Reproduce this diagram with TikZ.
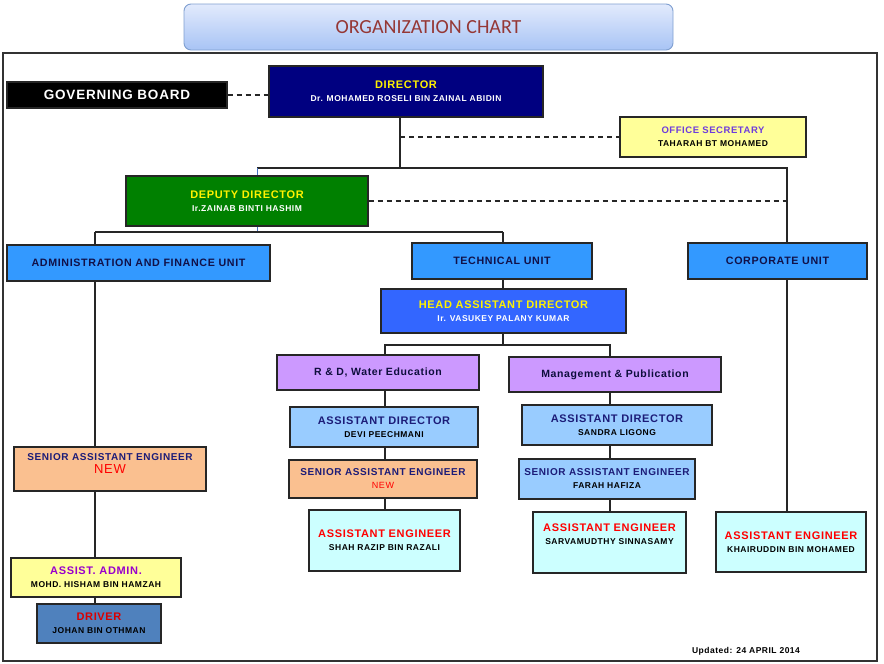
\documentclass[tikz,border=0pt]{standalone}
\usepackage{fontspec}
\setmainfont{Liberation Sans}[LetterSpace=6]
\newfontfamily\chartfont{Carlito}

\definecolor{dirblue}{HTML}{000080}
\definecolor{depgreen}{HTML}{008000}
\definecolor{unitblue}{HTML}{3399FF}
\definecolor{headblue}{HTML}{3366FF}
\definecolor{lilac}{HTML}{CC99FF}
\definecolor{skyblue}{HTML}{99CCFF}
\definecolor{peach}{HTML}{FAC090}
\definecolor{icecyan}{HTML}{CCFFFF}
\definecolor{paleyellow}{HTML}{FFFF99}
\definecolor{steel}{HTML}{4F81BD}
\definecolor{hdnavy}{HTML}{1C1C78}
\definecolor{secpurple}{HTML}{6E3CDC}
\definecolor{admpurple}{HTML}{9900CC}
\definecolor{titlered}{HTML}{953735}
\definecolor{titletop}{HTML}{E2EAFC}
\definecolor{titlebot}{HTML}{A8C4F5}
\definecolor{titleedge}{HTML}{7F9FD0}

\newcommand{\hdfont}{\fontsize{11}{12}\selectfont}
\newcommand{\nmfont}{\fontsize{8.5}{10}\selectfont}

\tikzset{
  post/.style={draw=black!85, line width=1.3pt, align=center, font=\bfseries, inner sep=1pt},
  link/.style={line width=1.1pt, black!85},
  dlink/.style={link, dash pattern=on 5pt off 4pt},
}

\begin{document}
\begin{tikzpicture}[x=1pt, y=-1pt]
  \useasboundingbox (0,0) rectangle (884,664);
  \draw[line width=1.3pt, black!80] (3,53) rectangle (877,661);

  \node[draw=titleedge, line width=0.9pt, rounded corners=7pt, top color=titletop, bottom color=titlebot,
        minimum width=489pt, minimum height=46pt, font=\chartfont\fontsize{20}{22}\selectfont, text=titlered] (title) at (428.5,27) {ORGANIZATION CHART};

  \node[post, fill=black, minimum width=220pt, minimum height=26pt, text=white, font=\bfseries\fontsize{13.5}{15}\selectfont] (board) at (117,95) {GOVERNING BOARD};
  \node[post, fill=dirblue, minimum width=274pt, minimum height=51pt] (dir) at (406,91.5)
    {{\hdfont\color{yellow}DIRECTOR}\\[1pt]{\nmfont\color{white}Dr. MOHAMED ROSELI BIN ZAINAL ABIDIN}};
  \node[post, fill=paleyellow, minimum width=186pt, minimum height=40pt] (sec) at (713,137)
    {{\fontsize{9.5}{11}\selectfont\color{secpurple}OFFICE SECRETARY}\\[1pt]{\nmfont TAHARAH BT MOHAMED}};
  \node[post, fill=depgreen, minimum width=242pt, minimum height=50pt] (dep) at (247,201)
    {{\hdfont\color{yellow}DEPUTY DIRECTOR}\\[1pt]{\nmfont\color{white}Ir.ZAINAB BINTI HASHIM}};

  \node[post, fill=unitblue, minimum width=263pt, minimum height=36pt, font=\bfseries\fontsize{10.7}{12}\selectfont, text=hdnavy!60!black] (adm) at (138.5,263) {ADMINISTRATION AND FINANCE UNIT};
  \node[post, fill=unitblue, minimum width=180pt, minimum height=36pt, font=\bfseries\fontsize{10.7}{12}\selectfont, text=hdnavy!60!black] (tech) at (502,261) {TECHNICAL UNIT};
  \node[post, fill=unitblue, minimum width=179pt, minimum height=36pt, font=\bfseries\fontsize{10.7}{12}\selectfont, text=hdnavy!60!black] (corp) at (777.5,261) {CORPORATE UNIT};

  \node[post, fill=headblue, minimum width=245pt, minimum height=44pt] (head) at (503.5,311)
    {{\hdfont\color{yellow}HEAD ASSISTANT DIRECTOR}\\[1pt]{\nmfont\color{white}Ir. VASUKEY PALANY KUMAR}};
  \node[post, fill=lilac, minimum width=202pt, minimum height=35pt, font=\bfseries\fontsize{10.5}{12}\selectfont, text=hdnavy!50!black] (rnd) at (378,372.5) {R \& D, Water Education};
  \node[post, fill=lilac, minimum width=212pt, minimum height=35pt, font=\bfseries\fontsize{10.5}{12}\selectfont, text=hdnavy!50!black] (mgt) at (615,374.5) {Management \& Publication};

  \node[post, fill=skyblue, minimum width=188pt, minimum height=40pt] (ad1) at (384,427)
    {{\hdfont\color{hdnavy}ASSISTANT DIRECTOR}\\[1pt]{\nmfont DEVI PEECHMANI}};
  \node[post, fill=peach, minimum width=188pt, minimum height=38pt] (sae1) at (383,479)
    {{\fontsize{10}{11}\selectfont\color{hdnavy}SENIOR ASSISTANT ENGINEER}\\[1pt]{\fontsize{9}{10}\selectfont\mdseries\color{red}NEW}};
  \node[post, fill=icecyan, minimum width=151pt, minimum height=61pt] (ae1) at (384.5,540.5)
    {{\hdfont\color{red}ASSISTANT ENGINEER}\\[1pt]{\nmfont SHAH RAZIP BIN RAZALI}};

  \node[post, fill=skyblue, minimum width=190pt, minimum height=40pt] (ad2) at (617,425)
    {{\hdfont\color{hdnavy}ASSISTANT DIRECTOR}\\[1pt]{\nmfont SANDRA LIGONG}};
  \node[post, fill=skyblue, minimum width=176pt, minimum height=40pt] (sae2) at (607,479)
    {{\fontsize{10}{11}\selectfont\color{hdnavy}SENIOR ASSISTANT ENGINEER}\\[1pt]{\nmfont FARAH HAFIZA}};
  \node[post, fill=icecyan, minimum width=153pt, minimum height=61pt] (ae2) at (609.5,542.5)
    {{\hdfont\color{red}ASSISTANT ENGINEER}\\[1pt]{\nmfont SARVAMUDTHY SINNASAMY}\\[4pt]~};

  \node[post, fill=icecyan, minimum width=150pt, minimum height=60pt] (ae3) at (791,542)
    {{\hdfont\color{red}ASSISTANT ENGINEER}\\[1pt]{\nmfont KHAIRUDDIN BIN MOHAMED}};

  \node[post, fill=peach, minimum width=192pt, minimum height=44pt] (sae0) at (110,469)
    {{\fontsize{10}{11}\selectfont\color{hdnavy}SENIOR ASSISTANT ENGINEER}\\[1pt]{\fontsize{13}{14}\selectfont\mdseries\color{red}NEW}\\[-1pt]~};
  \node[post, fill=paleyellow, minimum width=170pt, minimum height=39pt] (asa) at (96,577.5)
    {{\hdfont\color{admpurple}ASSIST. ADMIN.}\\[1pt]{\nmfont MOHD. HISHAM BIN HAMZAH}};
  \node[post, fill=steel, minimum width=124pt, minimum height=39pt] (drv) at (99,623.5)
    {{\hdfont\color{red!85!black}DRIVER}\\[1pt]{\nmfont JOHAN BIN OTHMAN}};

  \node[font=\bfseries\fontsize{8.5}{10}\selectfont] (upd) at (746,651) {Updated: 24 APRIL 2014};

  \coordinate (top) at (400,168);
  \coordinate (right) at (787,168);
  \coordinate (dx) at (257,168);
  \coordinate (mid) at (257,232);
  \coordinate (cadm) at (95,232);
  \coordinate (ctech) at (503,232);
  \coordinate (hd) at (503,345);
  \coordinate (cl) at (385,345);
  \coordinate (cr) at (610,345);

  \draw[dlink] (board.east) -- (board.east -| dir.west);
  \draw[link] (dir.south -| top) -- (top);
  \draw[dlink] (sec.west -| top) -- (sec.west);
  \draw[link] (dx) -- (right) -- (corp.north -| right);
  \draw[steel!90!blue, line width=1pt] (dx) -- (dep.north -| dx);
  \draw[dlink] (dep.east) -- (dep.east -| right);
  \draw[steel!90!blue, line width=1pt] (dep.south -| mid) -- (mid);
  \draw[link] (cadm) -- (ctech);
  \draw[link] (cadm) -- (adm.north -| cadm);
  \draw[link] (ctech) -- (tech.north -| ctech);
  \draw[link] (tech.south -| ctech) -- (head.north -| ctech);
  \draw[link] (head.south -| hd) -- (hd);
  \draw[link] (rnd.north -| cl) -- (cl) -- (cr) -- (mgt.north -| cr);
  \draw[link] (rnd.south -| cl) -- (ad1.north -| cl);
  \draw[link] (ad1.south -| cl) -- (sae1.north -| cl);
  \draw[link] (sae1.south -| cl) -- (ae1.north -| cl);
  \draw[link] (mgt.south -| cr) -- (ad2.north -| cr);
  \draw[link] (ad2.south -| cr) -- (sae2.north -| cr);
  \draw[link] (sae2.south -| cr) -- (ae2.north -| cr);
  \draw[link] (corp.south -| right) -- (ae3.north -| right);
  \draw[link] (adm.south -| cadm) -- (sae0.north -| cadm);
  \draw[link] (sae0.south -| cadm) -- (asa.north -| cadm);
  \draw[link] (asa.south -| cadm) -- (drv.north -| cadm);
\end{tikzpicture}
\end{document}
